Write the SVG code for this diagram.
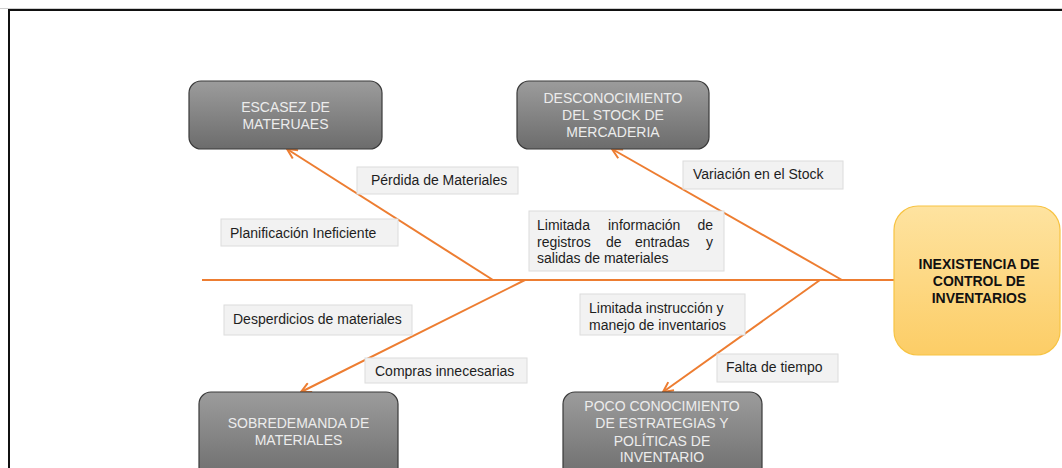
<svg xmlns="http://www.w3.org/2000/svg" width="1062" height="468" viewBox="0 0 1062 468">
<defs>
<linearGradient id="gDark" x1="0" y1="0" x2="0" y2="1">
<stop offset="0" stop-color="#9c9c9c"/>
<stop offset="1" stop-color="#6c6c6c"/>
</linearGradient>
<linearGradient id="gYel" x1="0" y1="0" x2="0" y2="1">
<stop offset="0" stop-color="#fee3a0"/>
<stop offset="1" stop-color="#fccd66"/>
</linearGradient>
<marker id="arr" viewBox="0 0 12 12" refX="11" refY="6" markerWidth="12" markerHeight="12" markerUnits="userSpaceOnUse" orient="auto">
<path d="M1,1 L11,6 L1,11" fill="none" stroke="#ed7d31" stroke-width="2"/>
</marker>
<style>
.dark{fill:url(#gDark);stroke:#3a3a3a;stroke-width:1.2}
.dt{font-family:"Liberation Sans",Arial,sans-serif;font-size:14px;fill:#ececec;text-anchor:middle}
.lbl{fill:#f2f2f2;stroke:#dcdcdc;stroke-width:1}
.lt{font-family:"Liberation Sans",Arial,sans-serif;font-size:14px;fill:#1e1e1e}
.bone{stroke:#ed7d31;stroke-width:2;fill:none}
.yt{font-family:"Liberation Sans",Arial,sans-serif;font-size:14px;font-weight:bold;fill:#111;text-anchor:middle}
</style>
</defs>
<rect x="0" y="0" width="1062" height="468" fill="#ffffff"/>
<line x1="0" y1="8.5" x2="1062" y2="8.5" stroke="#cfcfcf" stroke-width="1"/>
<path d="M9,470 L9,10 L1064,10" fill="none" stroke="#111" stroke-width="2"/>

<g id="connectors">
<line class="bone" x1="202" y1="280" x2="894" y2="280"/>
<line class="bone" x1="493" y1="280" x2="287" y2="149" marker-end="url(#arr)"/>
<line class="bone" x1="842" y1="280" x2="612" y2="149" marker-end="url(#arr)"/>
<line class="bone" x1="525" y1="280" x2="301" y2="392" marker-end="url(#arr)"/>
<line class="bone" x1="820" y1="280" x2="663" y2="392" marker-end="url(#arr)"/>
</g>

<g id="escasez">
<rect class="dark" x="189" y="81" width="193" height="68" rx="12"/>
<text class="dt" x="285.5" y="112">ESCASEZ DE</text>
<text class="dt" x="285.5" y="129">MATERUAES</text>
</g>

<g id="desconocimiento">
<rect class="dark" x="517" y="81" width="192" height="68" rx="12"/>
<text class="dt" x="613" y="103">DESCONOCIMIENTO</text>
<text class="dt" x="613" y="120">DEL STOCK DE</text>
<text class="dt" x="613" y="137">MERCADERIA</text>
</g>

<g id="sobredemanda">
<rect class="dark" x="199" y="392" width="199" height="90" rx="12"/>
<text class="dt" x="298.5" y="428">SOBREDEMANDA DE</text>
<text class="dt" x="298.5" y="445">MATERIALES</text>
</g>

<g id="poco">
<rect class="dark" x="563" y="392" width="199" height="90" rx="12"/>
<text class="dt" x="662" y="411">POCO CONOCIMIENTO</text>
<text class="dt" x="662" y="428">DE ESTRATEGIAS Y</text>
<text class="dt" x="662" y="446">POLÍTICAS  DE</text>
<text class="dt" x="662" y="462">INVENTARIO</text>
</g>

<g id="inexistencia">
<rect x="894" y="206" width="166" height="149" rx="24" fill="url(#gYel)" stroke="#f7c343" stroke-width="1.2"/>
<text class="yt" x="979" y="269">INEXISTENCIA DE</text>
<text class="yt" x="979" y="286">CONTROL DE</text>
<text class="yt" x="979" y="303">INVENTARIOS</text>
</g>

<g id="perdida">
<rect class="lbl" x="357" y="167" width="161" height="27"/>
<text class="lt" x="371" y="185">Pérdida de Materiales</text>
</g>

<g id="planificacion">
<rect class="lbl" x="221" y="219" width="177" height="27"/>
<text class="lt" x="230" y="238">Planificación Ineficiente</text>
</g>

<g id="variacion">
<rect class="lbl" x="683" y="161" width="160" height="28"/>
<text class="lt" x="693" y="179">Variación en el Stock</text>
</g>

<g id="limitada-info">
<rect class="lbl" x="529" y="211" width="195" height="60"/>
<text class="lt" x="537" y="230">Limitada</text>
<text class="lt" x="608" y="230">información</text>
<text class="lt" x="713" y="230" text-anchor="end">de</text>
<text class="lt" x="537" y="247">registros</text>
<text class="lt" x="606" y="247">de</text>
<text class="lt" x="635" y="247">entradas</text>
<text class="lt" x="713" y="247" text-anchor="end">y</text>
<text class="lt" x="537" y="263">salidas de materiales</text>
</g>

<g id="desperdicios">
<rect class="lbl" x="224" y="305" width="188" height="30"/>
<text class="lt" x="233" y="324">Desperdicios de materiales</text>
</g>

<g id="compras">
<rect class="lbl" x="365" y="358" width="162" height="25"/>
<text class="lt" x="375" y="376">Compras innecesarias</text>
</g>

<g id="limitada-instr">
<rect class="lbl" x="580" y="294" width="165" height="41"/>
<text class="lt" x="589" y="313">Limitada instrucción y</text>
<text class="lt" x="589" y="330">manejo de inventarios</text>
</g>

<g id="falta">
<rect class="lbl" x="717" y="354" width="121" height="28"/>
<text class="lt" x="726" y="372">Falta de tiempo</text>
</g>
</svg>
